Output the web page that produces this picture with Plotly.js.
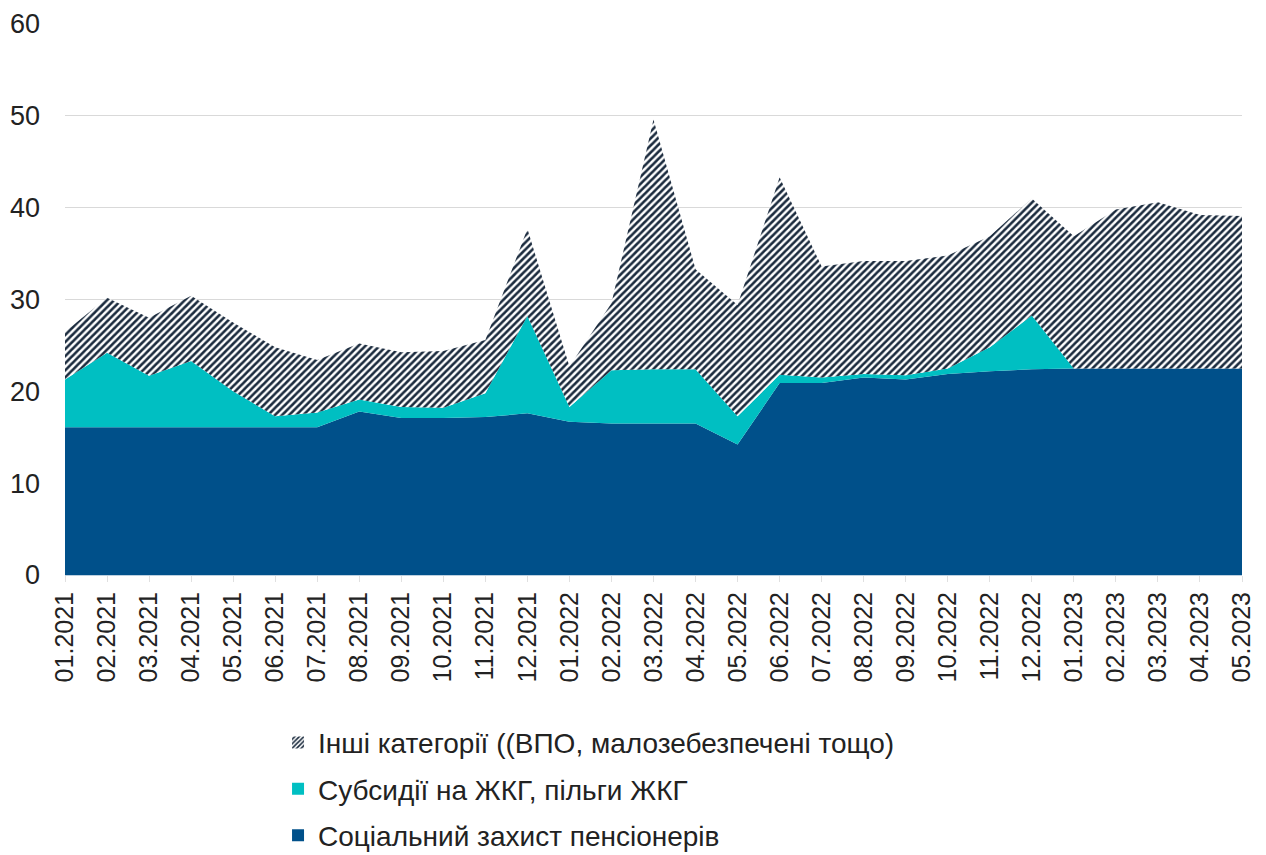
<!DOCTYPE html>
<html>
<head>
<meta charset="utf-8">
<script src="https://cdn.plot.ly/plotly-3.0.1.min.js"></script>
<style>html,body{margin:0;padding:0;background:#fff;}#chart{width:1266px;height:855px;}</style>
</head>
<body>
<div id="chart"></div>
<script>
const months = ["01.2021","02.2021","03.2021","04.2021","05.2021","06.2021","07.2021","08.2021","09.2021","10.2021","11.2021","12.2021",
"01.2022","02.2022","03.2022","04.2022","05.2022","06.2022","07.2022","08.2022","09.2022","10.2022","11.2022","12.2022",
"01.2023","02.2023","03.2023","04.2023","05.2023"];
// Соціальний захист пенсіонерів
const pensioners = [16.1,16.1,16.1,16.1,16.1,16.1,16.1,17.8,17.1,17.1,17.2,17.6,
16.7,16.5,16.5,16.5,14.2,20.9,20.9,21.5,21.3,21.9,22.2,22.4,
22.5,22.5,22.5,22.5,22.5];
// Субсидії на ЖКГ, пільги ЖКГ
const subsidies = [5.2,8.1,5.6,7.2,3.9,1.2,1.6,1.3,1.2,1.1,2.6,10.6,
1.6,5.8,5.9,5.9,3.1,0.9,0.6,0.4,0.45,0.6,2.6,5.85,
0,0,0,0,0];
// Інші категорії
const others = [5.2,6.0,6.3,7.1,7.5,7.5,5.7,6.1,5.95,6.2,5.8,9.5,
4.4,7.3,27.2,10.9,12.1,21.5,12.1,12.3,12.45,12.3,12.1,12.75,
14.4,17.3,18.1,16.7,16.6];

const names = ["Соціальний захист пенсіонерів","Субсидії на ЖКГ, пільги ЖКГ","Інші категорії ((ВПО, малозебезпечені тощо)"];
const colBlue = '#00508a', colCyan = '#00bfc2', colHatch = '#1b2b3e';
const hatch = {shape:'/', fgcolor:colHatch, bgcolor:'#ffffff', size:5, solidity:0.52};

const traces = [
  {x: months, y: pensioners, name: names[0], type:'scatter', mode:'lines', stackgroup:'one', showlegend:false,
   line:{width:0, color:colBlue}, fillcolor:colBlue},
  {x: months, y: subsidies, name: names[1], type:'scatter', mode:'lines', stackgroup:'one', showlegend:false,
   line:{width:0, color:colCyan}, fillcolor:colCyan},
  {x: months, y: others, name: names[2], type:'scatter', mode:'lines', stackgroup:'one', showlegend:false,
   line:{width:0, color:colHatch}, fillcolor:'#ffffff', fillpattern:hatch},
  // legend entries (no data)
  {x:[months[0]], y:[null], name:names[2], type:'bar', legendrank:1, legendgroup:'c', marker:{color:'#ffffff', pattern:{shape:'/', fgcolor:colHatch, bgcolor:'#ffffff', size:4, solidity:0.5}, line:{width:0}}},
  {x:[months[0]], y:[null], name:names[1], type:'bar', legendrank:2, legendgroup:'b', marker:{color:colCyan, line:{width:0}}},
  {x:[months[0]], y:[null], name:names[0], type:'bar', legendrank:3, legendgroup:'a', marker:{color:colBlue, line:{width:0}}}
];

const layout = {
  width:1266, height:855,
  margin:{l:65, r:24, t:24, b:280, autoexpand:false},
  paper_bgcolor:'#ffffff', plot_bgcolor:'#ffffff',
  font:{family:'"Liberation Sans", Arial, sans-serif', size:20, color:'#222'},
  showlegend:true,
  legend:{x:0.181, xanchor:'left', y:-0.259, yanchor:'top', orientation:'v',
    traceorder:'grouped', tracegroupgap:7, font:{size:28, color:'#222'}},
  xaxis:{type:'category', range:[0,28], tickangle:-90, ticks:'outside', ticklen:6, tickcolor:'#e0e0e0',
    showgrid:false, showline:true, linecolor:'#bcd0e0', linewidth:1, tickfont:{size:25, color:'#222'}, automargin:false},
  yaxis:{range:[0,60], dtick:10, showgrid:true, gridcolor:'#d9d9d9', gridwidth:1, zeroline:false,
    tickfont:{size:27, color:'#222'}, ticklabelstandoff:24, automargin:false}
};

Plotly.newPlot('chart', traces, layout, {displayModeBar:false});
</script>
</body>
</html>
